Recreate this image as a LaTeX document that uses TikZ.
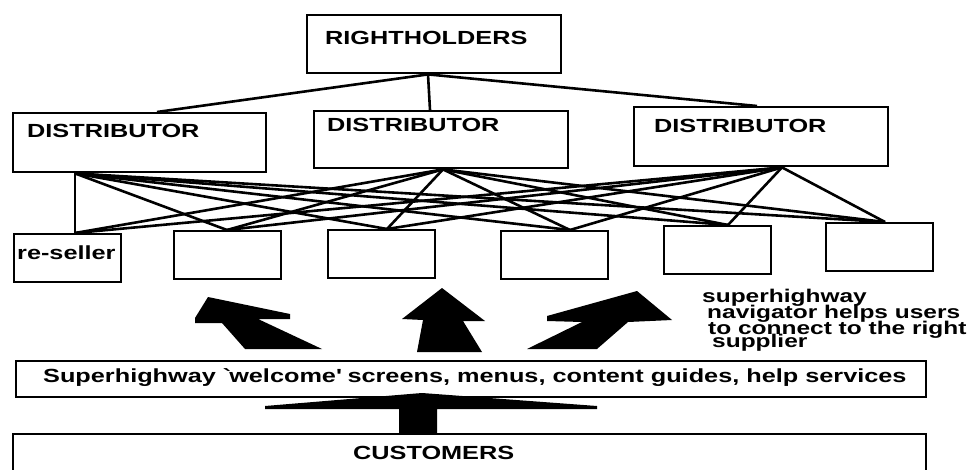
\documentclass[tikz,border=0pt]{standalone}
\usepackage{fontspec}
\setmainfont{Liberation Sans}[FakeStretch=1.33]

\begin{document}
\begin{tikzpicture}[x=1pt,y=-1pt,
  box/.style={draw,line width=2.4pt,inner sep=0pt,anchor=north west},
  lbl/.style={inner sep=0pt,anchor=base west,font=\fontsize{19}{19}\selectfont\bfseries},
  note/.style={lbl,font=\fontsize{18.4}{18}\selectfont\bfseries},
  link/.style={line width=2.6pt},
  blk/.style={fill=black}]
\useasboundingbox (0,0) rectangle (971,470);
\node (rh) at (306,14) [box,minimum width=254pt,minimum height=58pt] {};
\node (d1) at (12,112) [box,minimum width=253pt,minimum height=59pt] {};
\node (d2) at (313,110) [box,minimum width=254pt,minimum height=57pt] {};
\node (d3) at (633,106) [box,minimum width=254pt,minimum height=59pt] {};
\foreach \n/\x/\y in {1/13/233,2/173/230,3/327/229,4/500/230,5/663/225,6/825/222}
  \node (b\n) at (\x,\y) [box,minimum width=107pt,minimum height=48pt] {};
\node (wel) at (15,360) [box,minimum width=910pt,minimum height=36pt] {};
\node (cus) at (12,433) [box,minimum width=913pt,minimum height=50pt] {};

\node (rht) at ([shift={(19,31)}]rh.north west) [lbl] {RIGHTHOLDERS};
\node (d1t) at ([shift={(15,26)}]d1.north west) [lbl] {DISTRIBUTOR};
\node (d2t) at ([shift={(14,22)}]d2.north west) [lbl] {DISTRIBUTOR};
\node (d3t) at ([shift={(21,27)}]d3.north west) [lbl] {DISTRIBUTOR};
\node (b1t) at ([shift={(4,26)}]b1.north west) [lbl] {re-seller};
\node (welt) at ([shift={(28,22)}]wel.north west) [lbl] {Superhighway \textasciigrave welcome\textquotesingle{} screens, menus, content guides, help services};
\node (cust) at ([shift={(341,26)}]cus.north west) [lbl] {CUSTOMERS};
\node (nav1) at (702,302) [note] {superhighway};
\node (nav2) at (707,318) [note] {navigator helps users};
\node (nav3) at (708,334) [note] {to connect to the right};
\node (nav4) at (712,347) [note] {supplier};

\coordinate (rhb) at ([xshift=122pt]rh.south west);
\coordinate (dt1) at ([xshift=145pt]d1.north west);
\coordinate (dt2) at ([xshift=117pt]d2.north west);
\coordinate (dt3) at ([xshift=124pt]d3.north west);
\coordinate (db1) at ([xshift=63pt]d1.south west);
\coordinate (db2) at ([xshift=130pt]d2.south west);
\coordinate (db3) at ([xshift=149pt]d3.south west);
\foreach \n/\s in {1/62,2/54,3/60,4/70,5/65,6/60}
  \coordinate (bt\n) at ([xshift=\s pt]b\n.north west);

\foreach \d in {1,2,3}
  \draw [link] (rhb) -- (dt\d);
\foreach \d in {1,2,3}
  \foreach \b in {1,...,6}
    \draw [link] (db\d) -- (bt\b);

\fill [blk] (208,297) -- (290,314) -- (290,319) -- (258,319) -- (322,349) -- (245,349) -- (222,323) -- (195,323) -- (195,318) -- cycle;
\fill [blk] (442,288) -- (485,321) -- (463,321) -- (482,352) -- (417,352) -- (423,320) -- (402,319) -- cycle;
\fill [blk] (637,291) -- (672,320) -- (628,322) -- (597,349) -- (527,349) -- (582,322) -- (547,321) -- (547,316) -- cycle;
\fill [blk] (422,393) -- (265,406) -- (265,409) -- (399,409) -- (399,433) -- (437,433) -- (437,409) -- (597,409) -- (597,406) -- cycle;
\end{tikzpicture}
\end{document}
